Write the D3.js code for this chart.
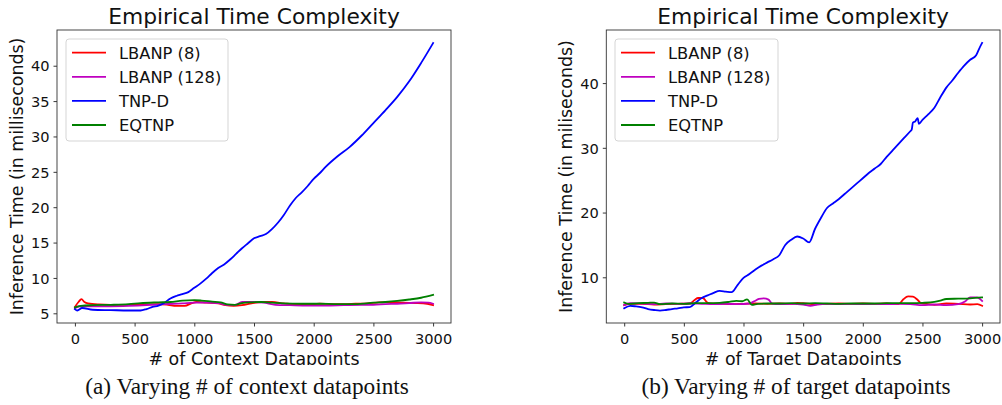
<!DOCTYPE html>
<html>
<head>
<meta charset="utf-8">
<script src="https://cdn.jsdelivr.net/npm/d3@7"></script>
<style>
  html, body { margin: 0; padding: 0; background: #fff; }
  svg { display: block; }
</style>
</head>
<body>
<svg id="chart" width="1002" height="405"></svg>
<script>
// ---------------- DATA ----------------
const seriesNames = ["LBANP (8)", "LBANP (128)", "TNP-D", "EQTNP"];
const xTicks = [0, 500, 1000, 1500, 2000, 2500, 3000];
const yTicksContext = [5, 10, 15, 20, 25, 30, 35, 40];
const yTicksTarget = [10, 20, 30, 40];

// Panel (a): varying # of context datapoints
const ctxLBANP8 = [[0,5.9],[30,6.6],[55,7.0],[80,6.6],[110,6.4],[200,6.25],[300,6.2],[400,6.2],[500,6.2],[600,6.25],[700,6.3],[780,6.2],[850,6.05],[920,6.05],[980,6.45],[1020,6.6],[1100,6.5],[1200,6.4],[1260,6.15],[1330,6.05],[1400,6.15],[1480,6.4],[1560,6.6],[1650,6.6],[1750,6.4],[1850,6.25],[1950,6.25],[2050,6.35],[2150,6.3],[2250,6.3],[2350,6.35],[2450,6.4],[2550,6.55],[2650,6.6],[2750,6.5],[2850,6.45],[2950,6.35],[3000,6.15]];
const ctxLBANP128 = [[0,5.7],[40,6.0],[150,6.0],[300,6.0],[450,6.05],[600,6.15],[750,6.3],[900,6.4],[1000,6.5],[1100,6.5],[1200,6.45],[1270,6.2],[1340,6.2],[1400,6.6],[1500,6.6],[1580,6.5],[1680,6.2],[1800,6.15],[1950,6.1],[2100,6.1],[2250,6.15],[2400,6.2],[2500,6.2],[2600,6.3],[2700,6.35],[2800,6.45],[2900,6.55],[2960,6.5],[3000,6.35]];
const ctxTNPD = [[0,5.6],[20,5.4],[60,5.75],[150,5.5],[300,5.45],[450,5.4],[550,5.4],[600,5.6],[650,5.9],[700,6.1],[750,6.5],[800,7.1],[850,7.45],[900,7.7],[950,8.0],[1000,8.6],[1050,9.2],[1100,9.9],[1150,10.7],[1200,11.4],[1250,11.9],[1300,12.6],[1350,13.4],[1400,14.2],[1450,14.9],[1500,15.6],[1550,15.9],[1600,16.2],[1650,16.9],[1700,17.8],[1750,18.9],[1800,20.2],[1850,21.3],[1900,22.1],[1950,23.0],[2000,24.0],[2050,24.8],[2100,25.7],[2200,27.2],[2300,28.5],[2400,30.1],[2500,31.9],[2600,33.7],[2700,35.6],[2800,37.8],[2900,40.4],[3000,43.2]];
const ctxEQTNP = [[0,5.85],[50,6.05],[150,6.15],[300,6.2],[450,6.3],[550,6.45],[700,6.55],[800,6.6],[900,6.8],[1000,6.85],[1060,6.8],[1150,6.65],[1220,6.55],[1280,6.25],[1340,6.2],[1400,6.45],[1480,6.55],[1560,6.6],[1650,6.5],[1750,6.4],[1900,6.35],[2050,6.35],[2200,6.3],[2350,6.3],[2500,6.5],[2600,6.6],[2700,6.75],[2800,6.95],[2900,7.2],[3000,7.6]];

// Panel (b): varying # of target datapoints
const tgtLBANP8 = [[0,5.7],[50,5.9],[150,5.9],[250,5.8],[350,5.85],[450,5.9],[550,5.95],[590,6.5],[620,6.8],[660,6.8],[690,6.2],[720,5.95],[800,5.9],[900,5.85],[1000,5.9],[1100,5.95],[1200,5.9],[1300,5.95],[1400,5.9],[1450,6.05],[1500,6.0],[1600,5.85],[1700,5.9],[1800,5.95],[1900,5.9],[2000,5.95],[2100,5.9],[2200,5.95],[2300,5.85],[2340,6.6],[2380,7.05],[2420,7.0],[2460,6.5],[2490,6.0],[2550,5.85],[2600,5.75],[2700,5.95],[2800,5.9],[2900,5.8],[2960,5.85],[3000,5.6]];
const tgtLBANP128 = [[0,5.7],[50,6.0],[150,5.95],[250,5.85],[350,5.95],[450,5.9],[550,5.95],[650,5.9],[750,5.85],[850,5.9],[950,5.85],[1050,5.95],[1090,6.3],[1130,6.65],[1170,6.75],[1210,6.55],[1240,5.95],[1300,5.85],[1400,5.9],[1500,5.8],[1560,5.6],[1620,5.8],[1700,5.9],[1800,5.85],[1900,5.9],[2000,5.85],[2100,5.9],[2200,5.85],[2300,5.9],[2400,5.85],[2500,5.7],[2600,5.8],[2700,5.7],[2800,5.85],[2860,6.3],[2900,6.9],[2950,6.9],[2980,6.7],[3000,6.35]];
const tgtTNPD = [[0,5.2],[50,5.6],[100,5.5],[150,5.35],[200,5.1],[250,4.95],[300,4.85],[350,4.95],[400,5.1],[450,5.2],[500,5.35],[550,5.4],[600,6.1],[650,6.8],[700,7.2],[750,7.6],[800,7.9],[850,7.8],[900,7.7],[950,8.8],[1000,9.9],[1050,10.5],[1100,11.2],[1150,11.8],[1200,12.3],[1250,12.8],[1300,13.4],[1350,15.0],[1400,15.8],[1450,16.3],[1500,16.0],[1550,15.4],[1600,17.5],[1650,19.2],[1700,20.7],[1750,21.4],[1800,22.1],[1850,22.9],[1900,23.7],[1950,24.5],[2000,25.3],[2050,26.1],[2100,26.8],[2150,27.5],[2200,28.6],[2250,29.6],[2300,30.6],[2350,31.6],[2400,32.6],[2410,32.8],[2420,33.9],[2440,34.1],[2460,34.6],[2470,33.7],[2500,34.3],[2550,35.2],[2600,36.2],[2650,37.8],[2700,39.3],[2750,40.4],[2800,41.6],[2850,42.7],[2900,43.6],[2950,44.3],[2975,45.3],[3000,46.2]];
const tgtEQTNP = [[0,6.1],[40,5.9],[120,6.0],[200,6.05],[250,6.1],[300,5.85],[400,5.95],[500,5.9],[600,6.0],[700,6.0],[800,6.05],[880,6.2],[940,6.35],[990,6.3],[1030,6.6],[1070,5.75],[1120,5.9],[1200,5.95],[1300,5.95],[1400,6.0],[1500,5.95],[1600,6.0],[1700,5.95],[1800,5.9],[1900,5.95],[2000,5.95],[2100,5.95],[2200,6.0],[2300,6.0],[2400,6.0],[2500,6.05],[2600,6.2],[2650,6.4],[2700,6.65],[2800,6.7],[2900,6.75],[3000,6.9]];

// ---------------- STYLE / LAYOUT ----------------
const colors = ["#ff0000", "#bf00bf", "#0000ff", "#008000"];
const svg = d3.select("#chart");
const FONT = "'DejaVu Sans', sans-serif";

const panels = [
  {
    left: 57, right: 451, top: 30, bottom: 323,
    xDomain: [-150, 3150], yDomain: [3.63, 45.05],
    yTicks: yTicksContext,
    series: [ctxLBANP8, ctxLBANP128, ctxTNPD, ctxEQTNP],
    title: "Empirical Time Complexity",
    xLabel: "# of Context Datapoints",
    yLabel: "Inference Time (in milliseconds)",
    yLabelX: 22.5,
    caption: "(a) Varying # of context datapoints",
    captionX: 247,
    legend: { x: 66, y: 39, w: 162, h: 102 }
  },
  {
    left: 606.3, right: 1000, top: 30, bottom: 323,
    xDomain: [-150, 3150], yDomain: [2.94, 48.2],
    yTicks: yTicksTarget,
    series: [tgtLBANP8, tgtLBANP128, tgtTNPD, tgtEQTNP],
    title: "Empirical Time Complexity",
    xLabel: "# of Target Datapoints",
    yLabel: "Inference Time (in miliseconds)",
    yLabelX: 572,
    caption: "(b) Varying # of target datapoints",
    captionX: 796,
    legend: { x: 615, y: 39, w: 163, h: 102 }
  }
];

const defs = svg.append("defs");

panels.forEach((p, i) => {
  const x = d3.scaleLinear().domain(p.xDomain).range([p.left, p.right]);
  const y = d3.scaleLinear().domain(p.yDomain).range([p.bottom, p.top]);
  const g = svg.append("g");

  defs.append("clipPath").attr("id", "plotclip" + i)
    .append("rect").attr("x", p.left).attr("y", p.top)
    .attr("width", p.right - p.left).attr("height", p.bottom - p.top);
  defs.append("clipPath").attr("id", "xlclip" + i)
    .append("rect").attr("x", p.left - 60).attr("y", 330)
    .attr("width", p.right - p.left + 120).attr("height", 35);

  const line = d3.line().x(d => x(d[0])).y(d => y(d[1])).curve(d3.curveMonotoneX);
  const lg = g.append("g").attr("clip-path", `url(#plotclip${i})`);
  p.series.forEach((s, k) => {
    lg.append("path").datum(s)
      .attr("d", line)
      .attr("fill", "none")
      .attr("stroke", colors[k])
      .attr("stroke-width", 1.8)
      .attr("stroke-linejoin", "round")
      .attr("stroke-linecap", "square");
  });

  const xAxis = d3.axisBottom(x).tickValues(xTicks).tickSize(3.5).tickPadding(4).tickFormat(d3.format("d"));
  const yAxis = d3.axisLeft(y).tickValues(p.yTicks).tickSize(3.5).tickPadding(4).tickFormat(d3.format("d"));
  const gx = g.append("g").attr("transform", `translate(0,${p.bottom})`).call(xAxis);
  const gy = g.append("g").attr("transform", `translate(${p.left},0)`).call(yAxis);
  [gx, gy].forEach(a => {
    a.select(".domain").remove();
    a.selectAll(".tick line").attr("stroke", "#222").attr("stroke-width", 0.9);
    a.selectAll(".tick text").attr("fill", "#111").style("font-family", FONT).style("font-size", "14.6px");
  });
  gx.selectAll(".tick text").attr("dy", "0.95em");
  gy.selectAll(".tick text").attr("dy", "0.36em");

  g.append("rect").attr("x", p.left).attr("y", p.top)
    .attr("width", p.right - p.left).attr("height", p.bottom - p.top)
    .attr("fill", "none").attr("stroke", "#333").attr("stroke-width", 0.9);

  g.append("text").attr("x", (p.left + p.right) / 2).attr("y", 24)
    .attr("text-anchor", "middle").style("font-family", FONT).style("font-size", "21.8px")
    .attr("fill", "#111").text(p.title);

  g.append("g").attr("clip-path", `url(#xlclip${i})`)
    .append("text").attr("x", (p.left + p.right) / 2).attr("y", 364.5)
    .attr("text-anchor", "middle").style("font-family", FONT).style("font-size", "17.4px")
    .attr("fill", "#111").text(p.xLabel);

  g.append("text")
    .attr("transform", `translate(${p.yLabelX},${(p.top + p.bottom) / 2}) rotate(-90)`)
    .attr("text-anchor", "middle").style("font-family", FONT).style("font-size", "17.4px")
    .attr("fill", "#111").text(p.yLabel);

  const L = p.legend;
  const leg = g.append("g");
  leg.append("rect").attr("x", L.x).attr("y", L.y).attr("width", L.w).attr("height", L.h)
    .attr("rx", 3).attr("fill", "#fff").attr("fill-opacity", 0.8)
    .attr("stroke", "#d5d5d5").attr("stroke-width", 1);
  seriesNames.forEach((name, k) => {
    const cy = L.y + 13.7 + k * 24.1;
    leg.append("line").attr("x1", L.x + 6).attr("x2", L.x + 40)
      .attr("y1", cy).attr("y2", cy).attr("stroke", colors[k]).attr("stroke-width", 1.8);
    leg.append("text").attr("x", L.x + 53).attr("y", cy).attr("dy", "0.36em")
      .style("font-family", FONT).style("font-size", "16.3px").attr("fill", "#111").text(name);
  });

  svg.append("text").attr("x", p.captionX).attr("y", 394)
    .attr("text-anchor", "middle")
    .style("font-family", "'Liberation Serif', 'Times New Roman', serif")
    .style("font-size", "23.3px").attr("fill", "#111").text(p.caption);
});
</script>
</body>
</html>
